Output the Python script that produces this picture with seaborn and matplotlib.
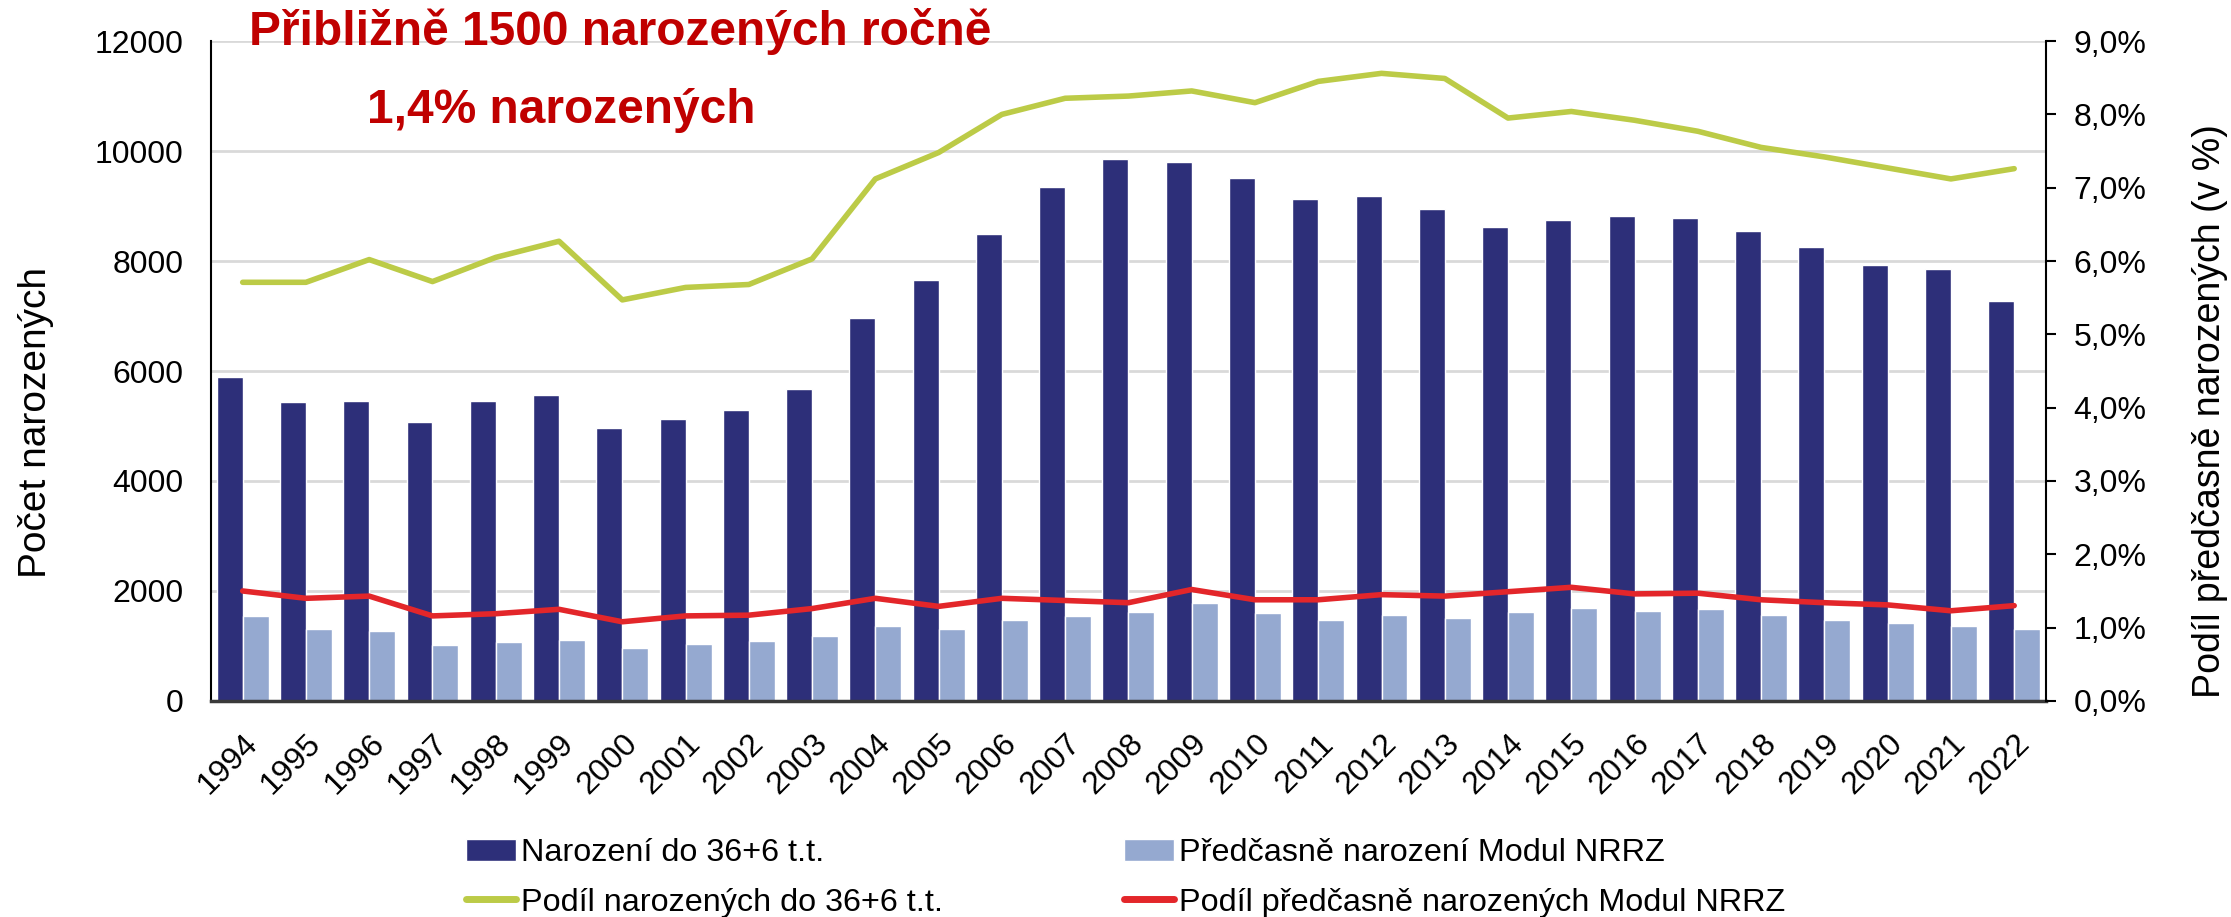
import matplotlib
matplotlib.use("Agg")
import matplotlib.pyplot as plt
import matplotlib.ticker as mticker
from matplotlib.patches import Patch
from matplotlib.lines import Line2D
import numpy as np
import pandas as pd
import seaborn as sns

years = [str(y) for y in range(1994, 2023)]
narozeni_36 = [5900, 5430, 5460, 5070, 5460, 5570, 4970, 5120, 5290, 5670,
               6960, 7660, 8500, 9350, 9850, 9810, 9510, 9130, 9180, 8950,
               8620, 8740, 8810, 8790, 8540, 8250, 7920, 7860, 7280]
predcasne_nrrz = [1540, 1310, 1280, 1010, 1070, 1100, 970, 1030, 1090, 1180,
                  1360, 1310, 1470, 1540, 1610, 1780, 1600, 1480, 1560, 1510,
                  1620, 1690, 1630, 1680, 1570, 1480, 1420, 1360, 1310]
podil_36 = [5.71, 5.71, 6.02, 5.72, 6.05, 6.27, 5.47, 5.64, 5.68, 6.03,
            7.12, 7.48, 8.00, 8.22, 8.25, 8.32, 8.16, 8.45, 8.56, 8.49,
            7.95, 8.04, 7.92, 7.77, 7.55, 7.42, 7.27, 7.12, 7.26]
podil_nrrz = [1.50, 1.40, 1.43, 1.16, 1.19, 1.25, 1.08, 1.16, 1.17, 1.26,
              1.40, 1.29, 1.40, 1.37, 1.34, 1.52, 1.38, 1.38, 1.45, 1.43,
              1.49, 1.55, 1.46, 1.47, 1.38, 1.34, 1.31, 1.23, 1.30]

lbl_bar1 = "Narození do 36+6 t.t."
lbl_bar2 = "Předčasně narození Modul NRRZ"
lbl_line1 = "Podíl narozených do 36+6 t.t."
lbl_line2 = "Podíl předčasně narozených Modul NRRZ"

c_dark = "#2d2f79"
c_light = "#95a9d0"
c_green = "#bccb47"
c_red = "#e3262a"
c_title = "#c00000"

sns.set_theme(style="white")
plt.rcParams["font.family"] = ["Liberation Sans", "DejaVu Sans"]
plt.rcParams["text.color"] = "black"
plt.rcParams["xtick.color"] = "black"
plt.rcParams["ytick.color"] = "black"

df_bars = pd.DataFrame({
    "rok": years * 2,
    "pocet": narozeni_36 + predcasne_nrrz,
    "serie": [lbl_bar1] * len(years) + [lbl_bar2] * len(years),
})

fig = plt.figure(figsize=(22.31, 9.17), dpi=100)
ax = fig.add_axes([0.0946, 0.2356, 0.8224, 0.7196])

# sloupce: narozeni a predcasne narozeni
sns.barplot(data=df_bars, x="rok", y="pocet", hue="serie",
            palette=[c_dark, c_light], width=0.82, saturation=1,
            gap=0, legend=False, ax=ax)

ax.set_ylim(0, 12000)
ax.set_xlim(-0.5, len(years) - 0.5)
ax.yaxis.set_major_locator(mticker.MultipleLocator(2000))
ax.grid(axis="y", color="#d9d9d9", linewidth=2)
ax.set_axisbelow(True)
for s in ["top", "right"]:
    ax.spines[s].set_visible(False)
ax.spines["left"].set_color("black")
ax.spines["left"].set_linewidth(1.5)
ax.spines["bottom"].set_color("#3a3a3a")
ax.spines["bottom"].set_linewidth(2.5)
ax.tick_params(axis="y", labelsize=23, length=0, pad=20)
ax.tick_params(axis="x", labelsize=23, length=0, pad=20)
plt.setp(ax.get_xticklabels(), rotation=45, ha="right", rotation_mode="anchor")
ax.set_xlabel("")
ax.set_ylabel("")

# podily na prave ose
ax2 = ax.twinx()
pos = np.arange(len(years))
sns.lineplot(x=pos, y=podil_36, color=c_green, linewidth=4, ax=ax2)
sns.lineplot(x=pos, y=podil_nrrz, color=c_red, linewidth=4, ax=ax2)
ax2.set_ylim(0, 9)
ax2.set_xlim(-0.5, len(years) - 0.5)
ax2.yaxis.set_major_locator(mticker.MultipleLocator(1))
ax2.yaxis.set_major_formatter(
    mticker.FuncFormatter(lambda v, p: f"{v:.1f}%".replace(".", ",")))
for s in ["top", "left", "bottom"]:
    ax2.spines[s].set_visible(False)
ax2.spines["right"].set_color("black")
ax2.spines["right"].set_linewidth(1.5)
ax2.tick_params(axis="y", labelsize=23, direction="out", length=7,
                width=1.5, color="black", pad=13)
ax2.set_ylabel("")
ax2.grid(False)

fig.text(0.0161, 0.539, "Počet narozených", rotation=90, fontsize=28,
         ha="center", va="center")
fig.text(0.9904, 0.552, "Podíl předčasně narozených (v %)", rotation=90,
         fontsize=27, ha="center", va="center")

fig.text(0.1116, 0.966, "Přibližně 1500 narozených ročně", color=c_title,
         fontsize=34.5, fontweight="bold", ha="left", va="center")
fig.text(0.1645, 0.879, "1,4% narozených", color=c_title,
         fontsize=34.5, fontweight="bold", ha="left", va="center")

handles = [
    Patch(facecolor=c_dark, label=lbl_bar1),
    Line2D([0], [0], color=c_green, linewidth=5, label=lbl_line1),
    Patch(facecolor=c_light, label=lbl_bar2),
    Line2D([0], [0], color=c_red, linewidth=5, label=lbl_line2),
]
fig.legend(handles=handles, ncol=2, loc="upper left",
           bbox_to_anchor=(0.203, 0.1), frameon=False, fontsize=23.3,
           handlelength=1.55, handletextpad=0.15, columnspacing=5.6,
           labelspacing=0.6, borderaxespad=0)

fig.savefig("out.png", dpi=100)
